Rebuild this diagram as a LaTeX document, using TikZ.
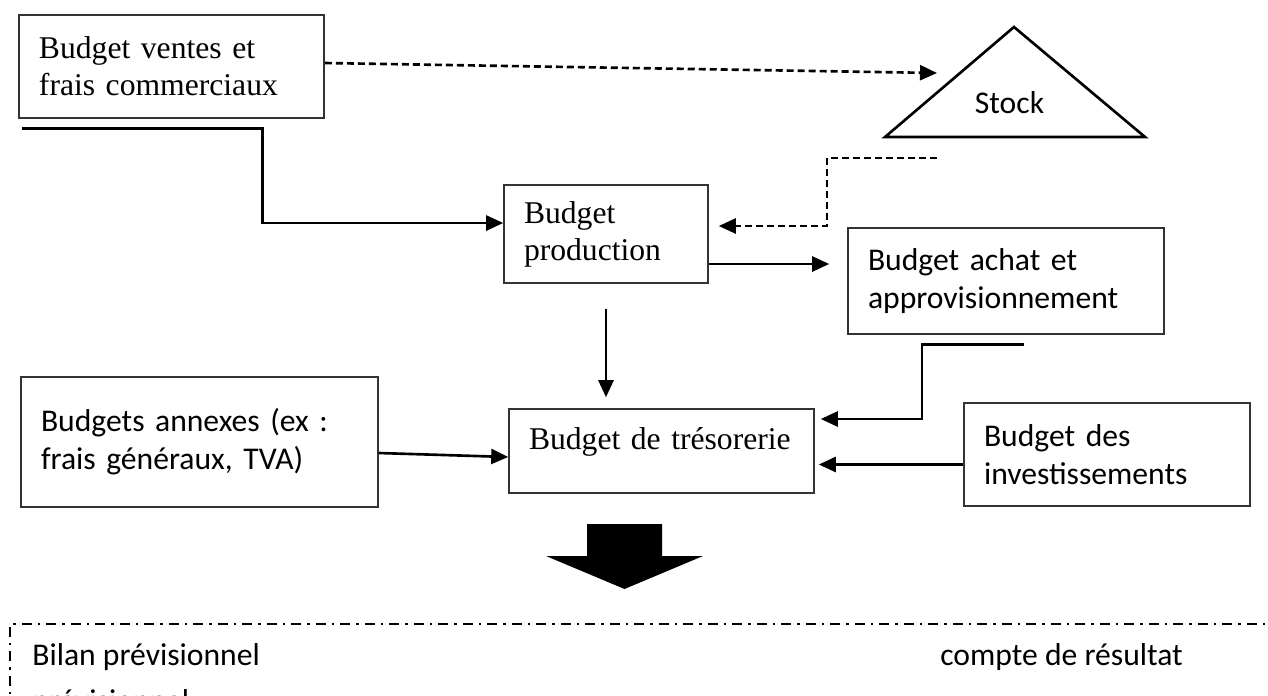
\documentclass[tikz,border=0pt]{standalone}
\usepackage{fontspec}
\setmainfont{Liberation Serif}
\newfontfamily\calibri{Carlito}
\usepackage{tikz}
\usetikzlibrary{arrows.meta,calc}

\begin{document}
\begin{tikzpicture}[
    >={Triangle[length=0.34cm,width=0.3cm]},
    budget/.style={draw=black!80, line width=0.9pt, align=left, inner xsep=0.4cm, inner ysep=0pt},
    serifbox/.style={budget, font=\fontsize{18}{21}\selectfont},
    sansbox/.style={budget, font=\calibri\fontsize{18}{21.6}\selectfont},
    flow/.style={line width=1.5pt, ->},
    flowdash/.style={flow, dash pattern=on 0.14cm off 0.08cm},
    plain/.style={inner sep=0pt, font=\calibri\fontsize{18}{21.6}\selectfont}
  ]
      \useasboundingbox (0,0) rectangle (25.36,-13.9);
      \clip (0,0) rectangle (25.36,-13.9);

      \node[serifbox, text width=5.3cm, minimum height=2.06cm] (ventes) at (3.43,-1.33) {Budget ventes et\\frais commerciaux};
      \node[serifbox, text width=3.28cm, minimum height=1.96cm] (prod) at (12.12,-4.68) {Budget\\production};
      \node[sansbox, text width=5.52cm, minimum height=2.12cm] (achat) at (20.12,-5.62) {Budget achat et\\approvisionnement};
      \node[sansbox, text width=6.34cm, minimum height=2.6cm] (annexes) at (3.99,-8.84) {Budgets annexes (ex :\\frais généraux, TVA)};
      \node[serifbox, text width=5.3cm, minimum height=1.68cm, text height=0.45cm, text depth=0.53cm] (treso) at (13.23,-9.02) {Budget de trésorerie};
      \node[sansbox, text width=4.92cm, minimum height=2.06cm] (invest) at (22.14,-9.09) {Budget des\\investissements};

      \draw[line width=1.5pt] (17.7,-2.74) -- (22.9,-2.74) -- (20.28,-0.54) -- cycle;
      \node[plain, anchor=base] (stock) at (20.19,-2.26) {Stock};
      \coordinate (stockin) at (18.74,-1.46);
      \coordinate (stockout) at (18.74,-3.16);

      \coordinate (vstart) at ($(ventes.south west)+(0.08,-0.2)$);
      \coordinate (astart) at ($(achat.south)+(0.36,-0.2)$);
      \coordinate (pout) at ($(prod.east)+(0,-0.6)$);
      \coordinate (iout) at ($(invest.west)+(0,-0.2)$);

      \draw[flowdash] ($(ventes.east)+(0,0.07)$) -- (stockin);
      \draw[flow] (vstart) -- ++(4.8,0) |- ($(prod.west)+(0,0.22)$);
      \draw[flowdash] (stockout) -- ++(-2.2,0) |- ($(prod.east)+(0.2,0.16)$);
      \draw[flow, shorten >=0.36cm] (pout) -- (pout -| achat.west);
      \draw[flow, shorten <=0.5cm, shorten >=0.22cm] (prod.south) -- (prod.south |- treso.north);
      \draw[flow] (astart) -- ++(-2.04,0) |- ($(treso.east)+(0.12,0.64)$);
      \draw[flow, shorten >=0.08cm] (iout) -- (iout -| treso.east);
      \draw[flow] ($(annexes.east)+(0,-0.22)$) -- ($(treso.west)+(0,-0.12)$);

      \fill (11.74,-10.48) -- (13.24,-10.48) -- (13.24,-11.12) -- (14.06,-11.12) -- (12.49,-11.78) -- (10.92,-11.12) -- (11.74,-11.12) -- cycle;

      \draw[line width=1.1pt, dash pattern=on 0.2cm off 0.12cm on 0.05cm off 0.12cm] (0.2,-14.2) -- (0.2,-12.48) -- (25.6,-12.48);
      \node[plain, anchor=base west] (bilan) at (0.64,-13.3) {Bilan prévisionnel};
      \node[plain, anchor=base west] (compte) at (18.8,-13.3) {compte de résultat};
      \node[plain, anchor=base west] (suite) at (0.64,-14.22) {prévisionnel};
    \end{tikzpicture}
\end{document}
